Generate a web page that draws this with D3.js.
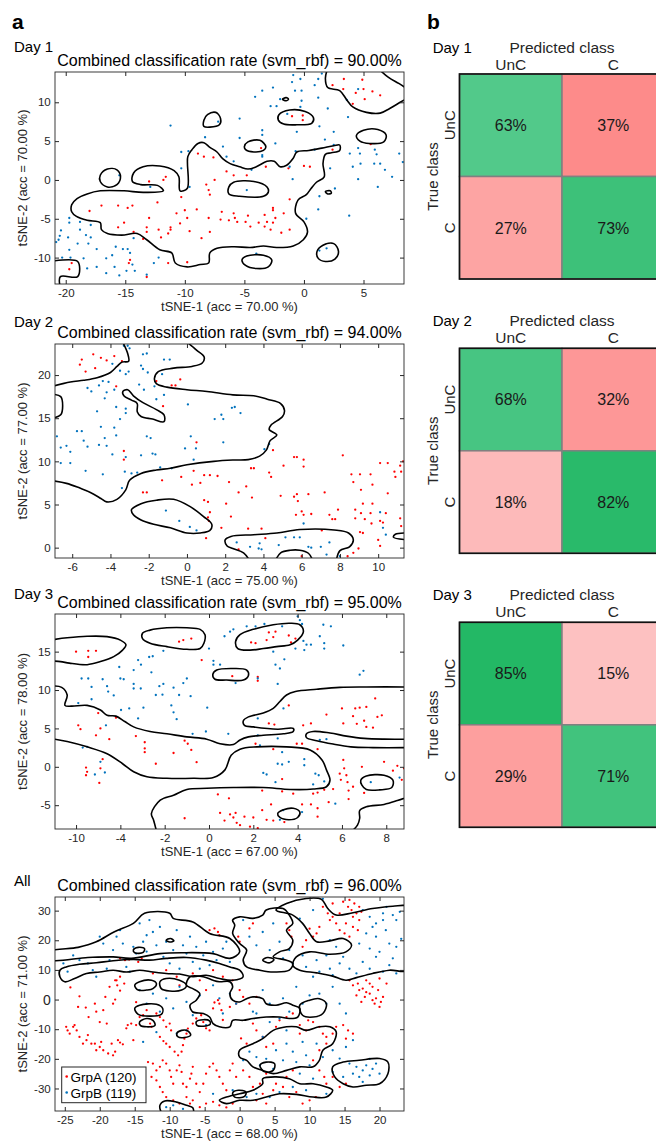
<!DOCTYPE html>
<html>
<head>
<meta charset="utf-8">
<script src="https://cdn.jsdelivr.net/npm/d3@7"></script>
<style>
body{margin:0;background:#fff}
text{font-family:"Liberation Sans",Arial,Helvetica,sans-serif;fill:#262626}
</style>
</head>
<body>
<div id="chart"></div>
<script>
// ---- data ----
const titles = ["Combined classification rate (svm_rbf) = 90.00%","Combined classification rate (svm_rbf) = 94.00%",
  "Combined classification rate (svm_rbf) = 95.00%","Combined classification rate (svm_rbf) = 96.00%"]
const dayNames = ["Day 1","Day 2","Day 3","All"]
const xLabels = ["tSNE-1 (acc = 70.00 %)","tSNE-1 (acc = 75.00 %)","tSNE-1 (acc = 67.00 %)","tSNE-1 (acc = 68.00 %)"]
const yLabels = ["tSNE-2 (acc = 70.00 %)","tSNE-2 (acc = 77.00 %)","tSNE-2 (acc = 78.00 %)","tSNE-2 (acc = 71.00 %)"]

const day1XDomain = [-20.9, 8.4], day1YDomain = [-13.4, 13.9]
const day2XDomain = [-6.9, 11.35], day2YDomain = [-1.2, 23.6]
const day3XDomain = [-6.95, 8.8], day3YDomain = [-8.1, 19.9]
const allXDomain = [-26.4, 23.5], allYDomain = [-37.6, 34.6]

const day1XTicks = [-20,-15,-10,-5,0,5], day1YTicks = [-10,-5,0,5,10]
const day2XTicks = [-6,-4,-2,0,2,4,6,8,10], day2YTicks = [0,5,10,15,20]
const day3XTicks = [-6,-4,-2,0,2,4,6,8], day3YTicks = [-5,0,5,10,15]
const day3XTickLabels = ["-10","-4","-2","0","2","4","6","8"]
const allXTicks = [-25,-20,-15,-10,-5,0,5,10,15,20], allYTicks = [-30,-20,-10,0,10,20,30]

const legendLabels = ["GrpA (120)","GrpB (119)"]

const day1Red = [[3.35,13.0],[4.9,12.9],[2.4,12.2],[3.3,11.7],[4.35,11.2],[5.0,11.7],[5.75,11.4],[6.4,10.9],[5.1,10.4],[4.1,9.8],[-1.0,8.2],[-0.1,8.3],[-0.1,7.7],[5.6,4.6],[-3.6,4.1],[2.4,3.9],[-8.9,3.4],[-8.4,3.0],[-7.6,2.9],[-6.5,1.1],[-5.9,0.6],[-4.8,0.6],[-3.2,1.7],[-1.3,1.5],[0.5,1.7],[-13.0,-0.2],[-11.8,0],[-11.6,0.4],[-8.2,-0.6],[-8.0,-1.3],[-7.5,0],[-10.3,-2.2],[-12.3,-2.9],[-7.9,-1.9],[-1.2,-2.5],[-17.0,-3.3],[-15.6,-3.3],[-14.8,-3.6],[-14.4,-3.3],[-18.0,-4.0],[-10.0,-3.9],[-10.7,-4.3],[-9.0,-3.8],[-6.9,-4.1],[-5.9,-4.3],[-4.7,-4.6],[-3.3,-4.5],[-2.6,-3.6],[-2.6,-3.9],[-1.7,-4.3],[-13.0,-4.9],[-15.1,-5.5],[-15.6,-6.1],[-14.3,-6.7],[-13.2,-6.1],[-13.2,-6.7],[-12.2,-6.4],[-12.0,-7.4],[-13.5,-7.6],[-11.4,-6.9],[-11.2,-6.1],[-11.2,-6.4],[-10.4,-5.6],[-9.8,-4.9],[-9.6,-6.6],[-8.0,-4.9],[-7.9,-6.7],[-8.6,-7.5],[-7.0,-5.1],[-6.3,-5.2],[-5.8,-4.9],[-5.6,-5.4],[-4.9,-5.4],[-4.5,-6.0],[-3.8,-5.5],[-3.3,-6.0],[-2.6,-5.5],[-2.4,-4.9],[-2.8,-6.4],[-1.9,-6.8],[-1.2,-6.4],[-3.1,-5.4],[-11.4,-10.7],[-9.8,-10.6],[-14.6,-10.3],[-14.7,-10.7],[-13.2,-12.5],[-19.7,-11.5],[-19.5,-10.7],[0,1.8]]
const day1Blue = [[-0.9,13.5],[-0.3,13.0],[-1.0,12.6],[1.5,13.7],[1.2,13.0],[-0.75,11.5],[-0.2,11.5],[0.9,12.2],[-2.6,11.9],[-3.5,11.5],[-4.1,10.7],[-2.0,10.4],[-0.2,10.2],[1.2,10.6],[2.0,9.2],[-2.8,9.5],[-2.3,9.5],[-0.3,9.4],[-5.4,7.9],[-7.2,7.5],[-11.2,7.0],[-1.4,8.5],[1.3,6.9],[3.6,10.3],[4.55,11.7],[3.7,8.1],[-3.5,6.4],[-3.5,5.8],[-5.4,5.4],[-8.3,5.5],[-2.4,4.7],[-0.6,6.2],[1.76,5.2],[2.5,6.2],[0.9,3.9],[-0.7,3.7],[-3.5,3.2],[-3.5,3.0],[-6.8,4.3],[-6.5,3.0],[-5.9,2.4],[-4.4,1.3],[-10.3,3.6],[-9.7,3.7],[-10.3,1.5],[-15.5,0.6],[-12.9,-0.9],[-9.6,-0.9],[-1.2,1.7],[-0.95,0.1],[2.5,4.5],[3.85,3.4],[4.55,4.1],[4.7,3.4],[4.1,1.7],[4.75,2.1],[4.55,0.1],[5.95,3.9],[6.1,3.3],[6.4,2.1],[5.9,2.1],[6.8,1.3],[7.4,0.4],[8.0,3.4],[8.3,2.3],[6.2,-0.9],[2.6,-1.1],[2.2,1.5],[1.3,-2.1],[1.2,-3.8],[0.2,-5.0],[3.8,-4.6],[-4.8,-1.3],[1.3,-9.1],[-4.0,-9.5],[1.9,-8.8],[-20.4,-6.5],[-20.5,-7.2],[-19.7,-4.9],[-19.7,-5.5],[-19.8,-7.4],[-19.0,-8.2],[-18.8,-6.4],[-18.8,-5.4],[-18.3,-7.1],[-18.1,-8.2],[-17.9,-7.4],[-17.9,-5.8],[-17.4,-8.9],[-19.7,-9.0],[-20.3,-10.0],[-19.6,-10.0],[-18.5,-10.1],[-18.2,-11.4],[-17.4,-11.2],[-16.6,-12.0],[-15.9,-11.2],[-16.6,-10.1],[-16.1,-9.7],[-15.8,-8.6],[-15.2,-8.9],[-14.8,-8.9],[-14.6,-9.4],[-14.4,-10.9],[-14.2,-11.7],[-14.9,-11.7],[-15.5,-12.3],[-13.2,-12.2],[-12.2,-10.0],[-12.6,-10.7],[-20.6,-7.7],[-14.3,-7.5],[-20.8,-8.0]]
const day1Loops = [
  [[-19.5,-3.2],[-19.05,-2.4],[-18.2,-1.8],[-17.1,-1.4],[-15.1,-1.4],[-13.5,-1.6],[-11.8,-1.4],[-12.3,-0.7],[-13.7,-0.6],[-14.4,-0.2],[-14.3,0.9],[-13.5,1.7],[-12.1,1.8],[-10.9,1.2],[-10.5,0.4],[-10.4,-1.4],[-9.8,-1.1],[-9.75,3.0],[-9.4,3.9],[-8.9,4.7],[-8.4,4.8],[-7.9,4.2],[-7.3,3.6],[-6.8,2.7],[-6.2,2.1],[-5.4,1.7],[-4.7,1.4],[-4.0,1.7],[-3.1,2.4],[-2.5,2.4],[-2.0,1.7],[-1.45,1.9],[-0.9,2.8],[-0.6,3.6],[0.4,3.8],[1.5,4.1],[2.5,4.4],[3.0,4.5],[3.0,3.8],[2.3,3.5],[1.8,3.3],[1.6,2.1],[1.7,0.4],[1.05,-0.3],[0.6,-1.1],[0.2,-1.9],[-0.5,-2.6],[-0.7,-4.3],[0,-5.4],[0.3,-6.7],[-0.05,-7.7],[-0.9,-8.5],[-2.3,-8.7],[-3.4,-8.5],[-4.5,-8.7],[-5.9,-8.6],[-7.3,-8.8],[-7.9,-9.4],[-8.0,-10.7],[-8.7,-10.9],[-9.8,-11.2],[-10.8,-10.7],[-11.1,-9.4],[-12.1,-9.0],[-13.2,-7.7],[-14.0,-6.9],[-15.3,-7.1],[-16.5,-6.9],[-17.0,-6.4],[-17.1,-5.5],[-18.2,-5.2],[-19.1,-4.7],[-19.5,-4.1]],
  [[-6.3,-0.9],[-5.9,-0.3],[-4.2,-0.2],[-3.1,-0.9],[-3.0,-1.6],[-3.4,-2.1],[-5.4,-2.1],[-6.3,-1.8]],
  [[-17.1,0.6],[-16.5,1.4],[-15.7,1.3],[-15.4,0.4],[-15.7,-0.6],[-16.5,-0.9],[-17.1,-0.2]],
  [[-8.4,7.7],[-8.1,8.4],[-7.4,8.7],[-7.0,7.9],[-7.1,7.1],[-7.9,6.8],[-8.4,6.9]],
  [[-5.0,4.3],[-4.7,4.9],[-3.7,5.1],[-3.2,4.3],[-3.4,3.8],[-4.2,3.6],[-4.9,3.9]],
  [[-2.1,8.4],[-1.2,9.0],[0.1,8.8],[0.8,8.0],[0.65,7.3],[-0.6,7.1],[-1.7,7.2],[-2.15,7.7]],
  [[-1.8,10.4],[-1.5,10.6],[-1.3,10.4],[-1.5,10.2]],
  [[4.4,5.7],[5.0,6.4],[6.2,6.5],[6.9,5.8],[6.7,4.9],[5.5,4.7],[4.7,5.0]],
  [[1.8,-1.5],[2.2,-1.4],[2.3,-1.7],[2.0,-1.8]],
  [[-5.2,-10.3],[-4.8,-9.8],[-3.4,-9.7],[-2.7,-10.3],[-3.0,-11.2],[-4.0,-11.4],[-4.9,-11.0]],
  [[1.1,-9.2],[1.6,-8.4],[2.5,-8.2],[2.9,-9.2],[2.6,-10.2],[1.8,-10.5],[1.2,-10.1]]
]
const day1Lines = [
  [[-21.3,-10.5],[-19.0,-10.5],[-19.0,-12.45],[-20.45,-12.45],[-20.45,-13.9]],
  [[2.0,14.4],[1.8,13.1],[2.0,11.9],[3.0,11.5],[3.6,10.3],[4.1,9.4],[5.25,8.7],[6.4,8.6],[7.2,9.2],[8.2,10.1],[8.9,10.7]],
  [[6.2,14.4],[7.1,13.2],[8.0,12.4],[8.9,11.5]]
]

const day2Red = [[-5.5,21.8],[-5.6,21.2],[-4.9,22.4],[-4.5,22.0],[-4.2,21.7],[-3.8,22.2],[-5.3,20.4],[-4.8,20.8],[-3.4,21.6],[-3.7,18.7],[-1.6,19.3],[-0.8,18.8],[-0.6,18.8],[-0.35,19.5],[-1.25,16.4],[-3.3,11.2],[-3.3,10.2],[-1.3,7.8],[-2.3,6.4],[-2.1,6.4],[-0.3,8.2],[0.35,8.9],[0.26,7.3],[0.7,7.5],[0.5,12.2],[0.9,8.4],[1.2,8.4],[1.6,8.3],[0.9,5.5],[1.1,5.3],[1.2,4.1],[1.1,3.5],[1.15,3.1],[1.0,1.1],[1.8,2.3],[2.05,5.1],[2.2,7.6],[2.7,6.4],[2.3,3.6],[3.1,7.1],[3.2,2.2],[3.35,9.2],[3.4,5.8],[3.5,9.2],[3.9,2.2],[4.1,1.1],[4.3,8.7],[4.4,8.2],[4.5,11.3],[4.9,6.0],[5.05,9.5],[5.6,10.5],[5.75,10.5],[5.6,5.9],[5.75,6.2],[5.8,5.4],[6.0,4.2],[6.1,3.8],[6.1,10.2],[6.1,9.4],[6.35,6.2],[6.5,3.9],[5.7,3.8],[7.05,2.0],[7.2,6.4],[7.45,3.8],[7.6,3.3],[7.75,3.3],[7.9,4.4],[8.15,10.7],[8.6,8.5],[8.7,7.6],[8.8,4.4],[8.8,3.4],[8.97,-0.1],[8.7,-0.6],[8.4,-1.0],[9.05,8.5],[9.1,6.7],[9.2,5.1],[9.1,4.0],[9.3,3.3],[9.05,1.8],[9.2,1.7],[9.6,8.5],[9.7,7.3],[9.7,5.1],[9.6,4.0],[9.65,2.8],[10.0,0.9],[10.1,9.8],[10.1,3.1],[10.25,2.9],[10.4,4.0],[10.5,9.8],[10.5,6.3],[10.1,0.2],[10.85,8.8],[10.9,8.2],[11.15,9.5],[11.2,8.8],[11.3,10.0],[11.15,3.4],[11.2,2.5],[2.7,-0.2],[6.0,-1.0]]
const day2Blue = [[-3.3,23.4],[-3.1,23.4],[-3.0,23.1],[-2.3,22.4],[-2.1,22.5],[-2.4,21.1],[-2.3,20.7],[-2.05,20.3],[-1.2,21.8],[-0.9,21.8],[-1.3,20.1],[-3.2,20.1],[-3.5,20.5],[-3.05,20.4],[-3.9,21.3],[-4.1,19.2],[-4.4,19.3],[-4.6,18.8],[-3.8,18.3],[-4.2,18.0],[-5.2,18.5],[-5.0,18.1],[-4.3,17.3],[-3.7,16.3],[-3.2,16.1],[-3.2,15.6],[-4.7,15.8],[-2.5,18.9],[-2.25,18.3],[-1.7,18.7],[-1.6,17.2],[-1.2,17.7],[0.05,16.6],[1.8,15.4],[1.45,14.9],[1.9,14.9],[2.35,16.2],[2.5,16.3],[2.8,15.6],[0.2,12.9],[0.47,11.5],[0.35,10.2],[1.9,12.2],[4.3,12.0],[4.05,11.4],[-6.8,12.9],[-6.6,11.6],[-6.6,9.8],[-6.3,11.8],[-6.1,11.1],[-6.1,9.8],[-5.75,13.5],[-5.5,13.5],[-5.4,12.4],[-5.2,11.7],[-5.3,8.9],[-4.6,11.9],[-4.5,14.0],[-4.3,12.7],[-4.2,11.8],[-3.8,13.9],[-3.7,13.0],[-3.9,10.8],[-4.4,8.5],[-3.5,14.9],[-3.4,6.9],[-3.25,8.8],[-3.2,10.5],[-2.9,8.6],[-2.6,8.7],[-2.4,10.7],[-2.1,12.9],[-1.9,12.7],[-1.8,10.9],[-1.65,10.8],[-1.4,9.3],[-0.8,9.2],[-0.1,11.5],[-1.1,4.3],[-0.4,3.1],[0.15,2.4],[0.5,2.0],[2.6,0.6],[3.3,0.1],[3.75,-0.1],[3.9,-0.2],[3.8,0.5],[4.8,0.3],[5.15,1.2],[5.6,1.2],[5.9,1.2],[6.1,2.8],[6.35,0.1],[6.5,0.0],[7.0,0.1],[7.45,0.6],[7.3,-0.8],[8.0,-1.0],[10.1,4.1],[10.25,2.3],[10.4,1.5]]
const day2Loops = [
  [[-3.35,18.1],[-3.1,18.3],[-2.8,17.6],[-2.3,16.8],[-1.6,16.0],[-1.2,15.4],[-1.2,14.6],[-1.8,14.9],[-2.4,15.2],[-2.6,15.75],[-2.6,16.7],[-2.9,17.1],[-3.3,17.6]],
  [[-2.9,4.4],[-2.4,5.1],[-1.6,5.5],[-0.7,5.6],[0.17,4.75],[0.87,3.6],[1.3,2.7],[1.2,2.0],[0.7,1.7],[0,1.7],[-0.87,2.3],[-1.74,2.7],[-2.4,3.2],[-2.8,3.8]]
]
const day2Lines = [
  [[-7.2,18.6],[-6.1,19.2],[-5.4,19.4],[-4.7,19.7],[-4.0,20.3],[-3.66,21.0],[-3.4,21.5],[-3.05,21.6],[-3.1,22.5],[-3.4,24.0]],
  [[-0.1,24.0],[0.5,22.9],[0.9,22.1],[0.8,21.4],[0.26,21.0],[-0.7,20.8],[-1.5,20.4],[-1.7,19.6],[-1.6,19.0],[-1.05,18.6],[0,18.3],[1.05,18.1],[2.4,17.7],[3.5,17.6],[4.2,17.2],[4.9,16.7],[5.1,15.9],[5.0,15.2],[4.4,14.2],[4.3,13.7],[4.7,13.05],[4.35,12.4],[4.15,11.3],[3.8,10.6],[3.2,10.2],[2.4,10.15],[1.4,10.0],[0,9.6],[-0.87,9.2],[-1.6,9.0],[-2.4,8.6],[-3.0,7.8],[-3.2,6.7],[-3.66,5.6],[-4.2,5.3],[-4.5,5.7],[-5.05,6.4],[-5.6,6.9],[-6.3,7.45],[-7.2,7.8]],
  [[-7.2,17.8],[-6.6,17.5],[-6.5,16.4],[-6.6,15.4],[-7.2,14.9]],
  [[3.3,-1.6],[2.96,-0.6],[2.4,-0.1],[2.1,0.2],[2.0,0.9],[2.3,1.3],[3.5,1.5],[4.7,1.7],[5.9,2.1],[7.7,2.05],[8.45,1.7],[8.7,0.9],[8.5,0.1],[8.0,-0.35],[7.8,-1.6]],
  [[4.6,-1.6],[4.9,-0.6],[5.4,-0.3],[5.9,-0.3],[6.35,-0.65],[6.6,-1.6]],
  [[11.7,1.7],[10.9,1.55],[10.8,1.2],[11.7,0.9]]
]

const day3Red = [[-6.0,15.0],[-5.45,15.1],[-5.1,15.1],[-5.45,14.3],[-1.35,16.3],[-1.16,16.5],[-0.8,16.7],[-0.33,13.9],[1.05,11.8],[1.9,16.2],[2.1,16.1],[2.2,11.7],[2.2,11.2],[2.7,17.5],[2.6,16.5],[3.0,17.6],[2.9,16.9],[3.6,17.1],[3.7,16.2],[3.9,16.7],[3.6,8.0],[-5.9,5.4],[-5.8,4.9],[-5.0,7.0],[-5.1,4.1],[-4.9,5.0],[-4.2,6.4],[-4.5,3.6],[-3.3,4.0],[-2.9,3.2],[-2.9,2.4],[-2.9,1.9],[-1.6,1.8],[-1.1,3.4],[-0.96,3.0],[-0.8,2.2],[-0.56,0.6],[-2.4,0.4],[-4.8,1.0],[-5.55,-0.1],[-5.5,-0.65],[-5.55,-1.1],[-4.95,-2.1],[-4.9,-0.2],[2.7,5.65],[2.95,5.5],[3.96,3.0],[4.2,3.0],[4.25,5.4],[4.6,5.65],[4.9,2.3],[5.3,6.8],[6.0,7.6],[6.06,5.65],[6.6,7.6],[6.5,6.6],[6.8,7.7],[7.1,7.8],[6.67,5.6],[7.0,6.0],[7.1,5.2],[7.5,8.9],[7.4,5.1],[7.6,6.5],[7.8,6.7],[2.1,3.0],[2.9,2.3],[3.3,-1.6],[3.3,-3.2],[3.8,-3.5],[2.4,-3.1],[2.4,-5.65],[2.0,-6.6],[1.6,-6.5],[1.85,-7.8],[2.2,-8.0],[2.6,-6.9],[2.9,-7.0],[2.8,-4.9],[0.4,-3.6],[0.9,-4.1],[0.5,-6.0],[0.7,-7.0],[0.95,-6.2],[1.1,-6.6],[1.2,-6.0],[1.25,-7.3],[1.4,-7.6],[-1.1,-6.7],[3.4,-7.2],[4.7,-3.5],[4.9,-3.35],[4.9,-5.4],[4.9,-6.5],[4.2,-4.9],[4.6,-4.9],[5.2,-3.0],[5.4,-4.6],[5.6,-2.9],[5.9,-0.9],[5.95,-1.7],[6.06,0.9],[6.1,-0.2],[6.2,-1.1],[6.25,-2.0],[6.3,-3.1],[6.3,-4.2],[6.5,-2.6],[6.9,0],[7.0,-3.4],[7.9,0.65],[8.3,-0.5],[8.5,0.13],[8.7,-1.7],[8.8,-0.2]]
const day3Blue = [[-5.9,8.3],[-5.75,11.5],[-5.45,11.5],[-5.3,10.4],[-5.3,8.8],[-4.8,11.4],[-4.6,10.5],[-4.55,9.8],[-4.3,9.3],[-4.05,13.0],[-4.0,11.5],[-3.85,11.4],[-3.97,7.4],[-3.6,7.6],[-3.4,12.6],[-3.4,10.8],[-3.4,10.2],[-3.2,13.9],[-3.07,13.3],[-3.08,10.2],[-2.96,7.7],[-3.2,6.3],[-2.7,14.3],[-2.54,14.4],[-2.6,12.3],[-2.4,9.35],[-2.1,9.4],[-2.24,10.5],[-2.06,10.8],[-2.06,15.1],[-1.6,10.3],[-1.7,8.0],[-1.6,7.1],[-1.46,6.2],[-1.35,9.35],[-1.16,10.9],[-1.0,11.5],[-0.83,9.2],[-0.74,4.3],[-0.14,4.6],[-0.08,7.7],[0.2,13.8],[0.2,13.3],[0.0,15.4],[0.5,13.3],[0.7,17.0],[0.87,4.3],[1.1,17.9],[1.2,10.9],[0.95,17.6],[1.7,18.3],[2.1,18.3],[2.2,11.5],[2.5,18.6],[2.9,15.0],[3.0,13.3],[3.2,12.8],[3.1,10.8],[3.4,14.0],[3.36,7.6],[3.3,18.3],[3.9,15.4],[4.0,19.6],[4.1,19.1],[4.2,18.6],[4.26,16.4],[4.4,15.9],[4.6,15.9],[4.3,15.2],[5.0,17.0],[5.2,16.1],[5.16,18.5],[5.5,18.3],[5.2,15.4],[6.06,15.8],[6.8,12.0],[6.97,12.5],[2.2,6.3],[2.2,4.1],[2.3,2.8],[3.1,3.7],[3.3,1.9],[3.1,0.4],[3.3,0.3],[3.6,0.65],[4.3,1.0],[4.3,0.2],[5.0,3.5],[5.3,3.6],[2.45,-0.8],[2.6,-1.0],[3.0,-2.0],[4.8,-0.9],[4.95,-1.1],[4.7,-2.3],[5.2,-1.9],[5.7,-4.8],[7.3,-2.0],[8.6,-1.4],[3.35,-5.65],[3.2,-6.9],[4.2,-5.9],[-5.15,-1.0],[-4.9,0.65],[-4.7,-0.74],[-5.7,2.5],[-5.5,2.6],[-4.65,5.4]]
const day3Loops = [
  [[-3.0,17.4],[-2.66,17.8],[-1.9,18.1],[-1.0,18.1],[-0.4,17.9],[-0.18,17.2],[-0.23,16.1],[-0.4,15.4],[-1.0,15.3],[-1.9,15.65],[-2.66,16.1],[-3.0,16.7]],
  [[1.2,16.3],[1.4,17.2],[2.0,17.9],[2.9,18.5],[3.66,18.7],[4.1,18.5],[4.26,17.6],[4.0,16.5],[3.66,15.9],[3.05,15.65],[2.45,15.4],[1.85,15.2],[1.3,15.4]],
  [[0.17,12.0],[0.35,12.6],[1.1,12.8],[1.7,12.6],[1.78,11.9],[1.55,11.3],[0.8,11.3],[0.27,11.4]],
  [[6.85,-1.74],[7.1,-1.2],[7.9,-1.1],[8.3,-1.74],[8.25,-2.7],[7.7,-3.0],[7.1,-2.96],[6.9,-2.4]],
  [[3.1,-6.1],[3.36,-5.6],[3.8,-5.4],[4.1,-5.9],[4.0,-6.6],[3.6,-6.9],[3.2,-6.6]]
]
const day3Lines = [
  [[-7.2,16.5],[-6.4,16.8],[-5.5,17.0],[-4.6,16.95],[-4.0,16.5],[-3.75,15.9],[-3.9,15.2],[-4.3,14.35],[-4.9,13.7],[-5.5,13.3],[-6.3,13.5],[-6.7,13.7],[-7.2,13.8]],
  [[-7.2,10.5],[-6.65,10.35],[-6.4,9.35],[-6.5,8.0],[-6.2,7.9],[-5.5,8.0],[-4.9,7.4],[-4.6,6.7],[-4.2,6.6],[-3.8,5.9],[-3.4,5.2],[-2.66,4.6],[-1.9,4.3],[-1.0,3.9],[-0.1,3.6],[0.5,3.0],[1.1,2.9],[1.4,3.5],[1.78,3.9],[2.45,4.1],[3.36,4.3],[3.8,4.6],[3.8,5.0],[3.1,4.9],[2.0,5.2],[1.6,5.4],[1.55,6.0],[1.78,6.5],[2.45,7.0],[2.9,7.6],[3.2,8.5],[3.5,9.35],[3.9,9.8],[4.86,10.1],[5.9,10.35],[7.1,10.4],[9.1,10.4]],
  [[-7.2,3.7],[-6.4,3.3],[-5.5,2.6],[-4.6,1.7],[-3.9,0.4],[-3.4,-0.65],[-2.8,-1.3],[-1.9,-1.5],[-0.7,-1.5],[0.2,-1.4],[0.72,-0.4],[1.0,1.5],[1.4,2.3],[2.15,2.6],[3.5,2.6],[4.56,2.2],[5.1,0.9],[5.3,-0.4],[5.46,-1.74],[5.3,-2.6],[4.7,-2.9],[3.66,-2.95],[2.45,-2.7],[1.1,-2.7],[-0.1,-2.8],[-1.0,-2.95],[-1.6,-3.7],[-2.2,-4.35],[-2.6,-6.1],[-2.5,-6.95],[-2.36,-8.5]],
  [[9.1,3.6],[7.9,3.6],[7.0,3.7],[6.2,4.0],[5.46,4.4],[4.7,4.6],[4.4,4.3],[4.4,3.8],[4.86,3.4],[5.6,2.96],[6.4,2.6],[7.4,2.5],[9.1,2.5]],
  [[9.1,-3.8],[8.5,-4.4],[7.9,-4.9],[7.1,-5.2],[6.8,-5.7],[6.8,-6.7],[6.7,-7.6],[6.4,-8.5]]
]

const allRed = [[-24.2,4.1],[-22.9,1.1],[-23.1,-2.5],[-22.0,-2.7],[-21.6,-5.9],[-20.7,-1.4],[-20.5,-4.1],[-19.5,-3.6],[-19.2,0.9],[-18.6,4.3],[-17.8,6.5],[-17.5,4.8],[-17.1,3.0],[-16.5,5.4],[-17.8,0],[-18.1,-1.4],[-20.0,-7.6],[-19.0,-8.1],[-24.8,-9.2],[-24.6,-10.4],[-24.3,-11.5],[-23.8,-9.2],[-23.6,-8.6],[-23.3,-10.4],[-22.9,-12.6],[-22.4,-14.9],[-21.9,-13.7],[-21.7,-12.0],[-21.2,-14.9],[-20.7,-14.9],[-20.5,-17.1],[-20.0,-16.0],[-19.8,-14.3],[-19.5,-17.1],[-18.8,-18.2],[-18.3,-14.9],[-17.8,-17.6],[-18.1,-18.8],[-17.4,-13.7],[-17.1,-14.5],[-16.7,-15.1],[-16.2,-9.7],[-16.0,-8.6],[-15.5,-8.1],[-14.8,-8.6],[-15.2,-13.7],[-14.8,-0.9],[-14.3,-5.9],[-13.8,-5.3],[-13.3,-3.6],[-12.8,-8.1],[-12.6,-9.2],[-11.9,-4.7],[-11.4,-5.9],[-10.9,-7.0],[-10.5,-9.2],[-10.0,-8.1],[-9.8,-10.4],[-11.4,-12.6],[-10.9,-14.0],[-10.5,-14.9],[-10.0,-16.0],[-9.3,-17.6],[-8.8,-18.8],[-8.3,-17.6],[-8.1,-15.4],[-7.9,-13.2],[-7.6,-11.5],[-7.4,-9.8],[-6.7,-8.1],[-6.2,-6.4],[-5.5,-5.3],[-5.2,-7.6],[-4.8,-9.7],[-4.3,-10.4],[-3.8,-3.0],[-3.6,-1.0],[-3.1,-0.2],[-2.9,-1.4],[-2.6,-3.6],[-2.4,-6.9],
  [-13.1,-21.1],[-12.4,-21.6],[-11.9,-23.9],[-11.4,-22.7],[-11.0,-20.5],[-10.5,-21.6],[-10.0,-23.9],[-9.8,-26.1],[-9.5,-28.4],[-9.0,-23.9],[-8.6,-22.2],[-8.3,-24.4],[-8.1,-28.4],[-7.6,-29.5],[-7.1,-26.7],[-6.9,-25.0],[-6.7,-22.7],[-6.2,-28.4],[-5.7,-31.2],[-5.2,-28.4],[-4.8,-25.0],[-4.3,-22.7],[-3.8,-21.6],[-3.3,-23.9],[-2.9,-26.1],[-2.4,-28.4],[-1.9,-30.6],[-1.4,-23.9],[-1.0,-21.6],[-0.5,-26.1],[-7.6,-32.9],[-7.1,-35.1],[-6.7,-34.0],[-5.7,-36.3],[-4.8,-35.1],[-3.8,-34.5],[-2.9,-35.7],[-1.9,-36.4],[-1.0,-35.1],[-8.6,-35.1],[-9.5,-34.0],[-10.5,-32.9],[-11.0,-31.2],[-11.4,-29.5],[-11.9,-27.3],[-12.6,-26.1],
  [0.2,-13.1],[1.0,-14.9],[1.9,-8.1],[2.4,-10.4],[3.3,-12.6],[3.8,-16.0],[4.8,-14.9],[5.2,-9.2],[5.7,-7.0],[6.7,-5.9],[7.6,-4.7],[8.6,-8.6],[8.6,-11.5],[9.5,-10.4],[9.8,-7.0],[10.5,-7.6],[11.4,-9.2],[11.9,-11.5],[12.4,-12.6],[13.3,-11.5],[13.8,-9.2],[14.8,-8.6],[15.5,-10.4],[16.2,-11.5],[15.2,-13.2],[12.4,-14.9],[11.4,-17.1],[10.5,-20.5],[11.4,-23.9],[12.1,-26.1],[12.4,-28.4],[13.3,-26.1],[14.3,-29.5],[15.2,-28.4],[0.5,-23.9],[1.4,-26.1],[1.9,-29.5],[2.9,-28.4],[3.8,-25.0],[4.8,-30.6],[5.2,-28.4],[6.2,-29.5],[7.1,-32.9],[8.1,-31.2],[9.0,-35.1],[10.0,-34.0],[10.9,-32.9],[7.6,-23.9],[6.7,-26.1],[3.3,-31.8],[3.8,-35.1],[2.4,-34.0],
  [13.3,32.4],[14.8,33.0],[15.5,31.3],[15.7,33.6],[16.0,30.2],[16.2,27.9],[16.4,32.4],[16.7,29.1],[17.1,26.8],[13.3,27.9],[12.9,26.8],[13.8,25.7],[14.3,23.4],[15.0,22.3],[15.2,25.7],[11.4,24.5],[11.0,22.3],[10.5,21.2],[9.5,20.0],[9.0,17.8],[10.0,23.9],[15.7,21.2],[16.2,24.5],[16.9,23.4],[12.6,29.1],[11.9,31.3],[14.3,29.1],[17.1,31.3],[17.4,29.6],
  [15.7,6.5],[16.2,4.8],[16.9,5.4],[17.1,3.2],[17.6,3.7],[17.9,0.9],[18.1,2.5],[18.6,2.0],[19.0,-0.2],[19.3,-1.4],[19.5,0.4],[20.0,-2.5],[20.2,-0.8],[20.5,0.9],[19.8,3.2],[19.0,4.3],[18.6,5.4],[18.1,6.5],[20.0,7.1],[21.0,5.4],[16.7,1.4],[17.4,-0.8],
  [-4.3,23.4],[-3.6,24.0],[-3.1,22.8],[-2.9,21.7],[6.7,25.7],[7.1,23.4],[7.4,21.2],[1.9,25.7],[1.4,24.0],[-0.2,21.2],[0,19.5],
  [-17.1,13.9],[-16.4,13.3],[-15.8,13.5],[-14.5,12.7],[-14.0,13.9],[-17.6,6.5],[-17.1,7.7],
  [-12.4,8.8],[-10.5,9.9],[-9.0,7.7],[-8.6,4.8],[-6.7,8.8],[-5.7,6.5],[-4.8,3.2],[-3.8,9.9],[-2.4,7.7],[-1.0,6.5],[0,3.2],[0.5,0.9],[-0.5,-1.4],[-1.4,-2.5],[1.4,-1.4],[2.4,0.9]]
const allBlue = [[-25.2,12.2],[-24.6,9.4],[-23.8,14.9],[-22.9,13.3],[-21.7,12.2],[-21.0,9.9],[-20.5,7.7],[-20.0,21.2],[-19.5,18.9],[-19.0,10.4],[-18.6,13.3],[-18.1,16.7],[-17.6,21.2],[-17.1,23.4],[-16.7,18.9],[-16.2,11.0],[-15.7,9.4],[-15.2,17.8],[-14.8,15.5],[-14.3,25.7],[-13.8,19.5],[-13.3,16.2],[-13.3,21.7],[-12.9,26.8],[-12.4,22.8],[-11.9,18.3],[-11.4,24.5],[-10.9,14.4],[-10.5,19.5],[-10.0,12.2],[-9.5,16.7],[-9.0,23.4],[-8.6,10.4],[-8.1,18.3],[-7.6,15.5],[-7.1,21.2],[-6.7,12.7],[-6.2,17.8],[-5.7,10.4],[-5.2,14.9],[-4.8,19.5],[-4.3,11.6],[-3.8,16.1],[-3.3,13.3],[-2.4,17.2],[-1.9,19.5],[-1.4,12.7],
  [-14.3,3.2],[-13.3,-1.4],[-12.4,2.0],[-11.4,-4.1],[-10.5,0.4],[-9.5,-3.0],[-8.6,4.3],[-7.6,-0.8],[-6.7,-5.3],[-5.7,1.4],[-4.8,-8.6],[-3.8,4.8],[-2.9,0.4],[-2.4,-4.7],[-1.4,2.0],[-0.5,-1.4],[-11.9,-11.0],[-13.8,-14.3],[-9.0,-11.5],[-7.6,-10.4],
  [0.5,26.8],[1.4,21.2],[2.4,18.3],[3.3,22.8],[4.3,16.7],[4.8,25.7],[5.7,19.5],[6.2,13.9],[7.1,16.7],[7.6,12.2],[8.6,27.3],[9.0,14.9],[9.5,11.0],[10.5,7.7],[11.0,13.3],[11.4,9.4],[12.4,14.9],[12.9,10.4],[13.3,8.2],[14.3,12.2],[14.8,14.4],[15.7,10.4],[16.7,8.8],[17.6,12.7],[18.6,10.4],[19.5,14.4],[20.5,9.4],[21.4,11.6],[22.4,8.8],[10.5,30.2],[11.9,34.0],[12.9,20.0],[13.8,17.8],[10.0,1.4],[8.1,4.3],[6.2,0.4],[4.3,-1.4],[3.3,3.2],[1.9,-4.1],[11.4,2.0],[12.4,-1.4],[13.3,4.3],[9.0,-1.4],[7.1,-4.1],[5.7,-6.4],
  [17.6,30.2],[18.6,27.9],[19.5,25.7],[20.5,29.1],[21.0,31.3],[21.9,28.5],[22.9,29.6],[22.4,26.8],[20.9,23.4],[19.5,21.2],[18.1,22.3],[17.1,18.9],[18.6,17.2],[20.0,16.1],[21.4,18.9],[22.4,17.8],[23.1,20.5],[21.9,13.9],[19.0,24.5],[20.5,26.8],
  [0.5,-20.5],[1.4,-17.6],[2.4,-19.4],[2.9,-22.2],[3.8,-20.0],[4.8,-23.4],[5.2,-17.1],[6.2,-20.5],[6.7,-14.9],[7.6,-17.6],[8.1,-21.1],[8.6,-25.0],[9.0,-14.3],[9.5,-18.8],[10.0,-22.2],[10.5,-26.7],[11.0,-14.9],[11.9,-19.4],[13.3,-17.1],[14.3,-19.9],[15.2,-16.0],[15.7,-21.6],[16.2,-25.0],[16.7,-22.7],[17.1,-26.1],[17.6,-23.9],[18.1,-22.2],[18.6,-25.6],[19.0,-23.4],[19.5,-21.6],[20.0,-25.0],[18.6,-20.0],[17.6,-27.8],[14.8,-26.1],[13.3,-24.4],[5.7,-31.2],[4.3,-32.9],[2.4,-31.8],[1.0,-32.9],[-1.0,-30.6],[7.6,-29.5],[9.5,-30.6],[12.4,-31.8],[6.7,-10.4],[4.3,-7.6],[3.3,-12.6],[2.4,-4.7],[15.2,-4.7],[14.3,-1.4],[16.2,-13.7],
  [-10.5,-36.3],[-9.5,-35.7],[-8.1,-36.9],[-3.8,-31.8],[-15.2,-30.6],[-16.2,-28.4]]
const allLoops = [
  [[-27.2,16.1],[-23.1,17.6],[-20.5,19.5],[-17.9,22.9],[-15.2,25.7],[-13.6,29.1],[-10.0,29.1],[-9.5,27.4],[-6.7,26.2],[-4.3,22.3],[-1.4,20.6],[0,16.1],[-1.4,13.9],[-3.8,15.5],[-8.3,15.8],[-11.4,15.5],[-15.5,13.9],[-18.1,14.4],[-21.7,14.2],[-27.2,13.5]],
  [[-25.7,9.9],[-24.8,11.0],[-22.9,11.9],[-20.5,12.4],[-18.1,13.1],[-15.2,13.5],[-12.9,13.3],[-10.5,13.9],[-7.6,14.2],[-4.8,13.3],[-2.9,12.2],[-1.4,11.0],[0,9.9],[0.5,7.7],[-1.0,6.5],[-2.9,7.1],[-4.8,8.2],[-6.7,7.7],[-8.6,8.6],[-10.5,8.8],[-12.4,9.3],[-14.3,9.9],[-16.2,9.3],[-18.1,9.9],[-20.0,9.3],[-21.9,8.8],[-23.6,7.1],[-25.0,6.0],[-25.7,7.7]],
  [[-1.0,26.8],[0,27.9],[1.9,27.4],[3.3,28.5],[3.8,30.2],[6.2,30.7],[7.1,28.5],[7.6,25.7],[6.7,23.4],[7.6,20.0],[7.1,17.2],[5.7,16.1],[4.8,14.4],[6.7,13.3],[7.6,12.2],[7.1,9.9],[4.8,9.3],[2.9,9.9],[1.0,11.0],[0.5,13.3],[1.0,16.7],[0,18.9],[-1.0,22.3],[-0.7,25.1]],
  [[5.2,30.2],[6.7,32.4],[9.5,34.1],[11.7,33.8],[12.6,30.7],[13.8,28.5],[16.2,29.3],[19.0,30.7],[21.9,31.5],[24.3,31.1],[24.3,10.1],[21.4,9.9],[19.0,8.8],[16.7,7.4],[15.2,6.5],[13.3,7.9],[11.0,9.0],[8.6,9.9],[7.6,11.6],[8.1,14.4],[10.0,16.1],[12.9,15.3],[15.2,16.1],[16.0,18.4],[14.8,20.6],[12.9,19.8],[11.0,19.5],[10.0,22.3],[9.0,25.7],[7.6,28.5]],
  [[-7.1,7.7],[-5.2,7.7],[-3.8,6.5],[-2.9,6.0],[-1.4,6.0],[-1.0,4.3],[-1.4,2.0],[-1.0,-0.2],[0,-0.8],[1.0,0.3],[1.9,0.9],[3.3,0.3],[3.8,-1.4],[5.2,-1.9],[6.7,-1.1],[7.6,-1.9],[8.6,-3.0],[8.3,-5.9],[7.1,-6.4],[5.7,-5.9],[3.8,-5.9],[1.9,-6.4],[0.5,-7.0],[-1.0,-7.0],[-1.4,-9.2],[-2.9,-9.2],[-3.8,-8.1],[-4.3,-5.9],[-5.2,-4.7],[-6.7,-4.2],[-7.1,-1.9],[-6.2,-0.2],[-5.7,2.0],[-6.7,3.7],[-7.6,4.8]],
  [[-15.0,4.8],[-14.3,6.0],[-12.6,6.5],[-11.9,5.4],[-12.4,3.7],[-13.3,3.2],[-14.5,3.2]],
  [[-11.4,6.0],[-10.5,7.1],[-8.6,6.5],[-7.6,4.8],[-8.3,3.2],[-10.0,2.9],[-11.2,3.7]],
  [[-15.0,-3.0],[-14.3,-1.9],[-11.9,-1.6],[-11.0,-3.0],[-11.2,-5.0],[-12.9,-5.6],[-14.5,-5.0]],
  [[-14.3,-7.5],[-13.3,-6.4],[-12.4,-7.0],[-12.1,-8.7],[-13.3,-9.2],[-14.2,-8.7]],
  [[-9.0,-11.5],[-8.3,-10.4],[-7.4,-10.6],[-7.0,-12.0],[-7.9,-12.8],[-8.8,-12.6]],
  [[-6.2,-7.5],[-5.2,-6.8],[-4.3,-7.2],[-4.2,-8.3],[-5.2,-9.0],[-6.1,-8.7]],
  [[8.6,-1.9],[10.0,-0.2],[11.4,0.3],[12.4,-1.4],[11.9,-4.7],[10.5,-5.9],[9.0,-5.3]],
  [[0,-17.1],[1.9,-14.9],[3.3,-13.2],[4.8,-10.4],[6.7,-9.2],[8.1,-9.2],[9.5,-10.4],[11.4,-9.2],[12.9,-9.2],[13.8,-10.9],[13.3,-14.9],[11.9,-17.1],[11.4,-20.5],[10.5,-22.7],[8.6,-22.7],[6.7,-23.9],[4.8,-25.0],[3.3,-23.9],[1.9,-22.7],[1.0,-20.5],[0,-19.4]],
  [[13.3,-22.7],[14.8,-21.1],[17.1,-20.5],[20.0,-19.9],[21.2,-21.1],[21.2,-25.0],[20.0,-28.4],[18.1,-28.9],[16.2,-29.5],[14.8,-28.4],[13.6,-26.1]],
  [[-2.9,-34.0],[-1.9,-32.9],[0,-31.8],[1.9,-30.6],[3.3,-28.4],[3.3,-26.7],[5.2,-26.1],[7.1,-26.7],[8.6,-28.4],[10.5,-28.4],[12.4,-29.5],[13.3,-30.6],[12.4,-32.9],[10.5,-32.9],[8.1,-32.0],[5.7,-31.8],[3.8,-32.9],[1.9,-34.0],[0,-34.0],[-1.9,-35.1]],
  [[-11.4,-35.7],[-10.7,-34.2],[-9.0,-34.6],[-7.6,-35.7],[-6.7,-36.5],[-6.7,-38.4],[-11.0,-38.4]],
  [[-1.0,-31.5],[-0.2,-30.6],[0.9,-31.2],[0.7,-32.7],[-0.7,-32.9]],
  [[2.9,-22.2],[3.8,-21.1],[5.0,-21.6],[4.8,-23.9],[3.6,-24.4]],
  [[-15.2,16.7],[-14.5,17.6],[-13.6,17.2],[-13.8,15.9],[-15.0,15.8]],
  [[-10.5,20.0],[-9.9,20.6],[-9.4,19.8],[-10.0,19.4]],
  [[3.3,13.3],[4.0,14.2],[4.9,13.5],[4.3,12.4]]
]

// confusion matrices (rows: true class, cols: predicted class)
const classes = ["UnC","C"]
const cm1 = [[63,37],[27,73]]
const cm2 = [[68,32],[18,82]]
const cm3 = [[85,15],[29,71]]

// ---- layout ----
const W = 656, H = 1142
const svg = d3.select("#chart").append("svg").attr("width",W).attr("height",H)
const RED = "#ff0000", BLUE = "#0072bd", AXC = "#262626"

const panels = [
  {top:72, bottom:284, dayY:52, xd:day1XDomain, yd:day1YDomain, xt:day1XTicks, yt:day1YTicks, red:day1Red, blue:day1Blue, loops:day1Loops, lines:day1Lines},
  {top:344, bottom:558, dayY:327, xd:day2XDomain, yd:day2YDomain, xt:day2XTicks, yt:day2YTicks, red:day2Red, blue:day2Blue, loops:day2Loops, lines:day2Lines},
  {top:614, bottom:829, dayY:599, xd:day3XDomain, yd:day3YDomain, xt:day3XTicks, yt:day3YTicks, xtl:day3XTickLabels, red:day3Red, blue:day3Blue, loops:day3Loops, lines:day3Lines},
  {top:897, bottom:1111, dayY:886, xd:allXDomain, yd:allYDomain, xt:allXTicks, yt:allYTicks, red:allRed, blue:allBlue, loops:allLoops, lines:[]}
]

// panel letters
svg.append("text").attr("x",12).attr("y",29).style("font-size","21px").style("font-weight","bold").style("fill","#000").text("a")
svg.append("text").attr("x",427).attr("y",29).style("font-size","21px").style("font-weight","bold").style("fill","#000").text("b")

function styleAxis(sel, size) {
  sel.select(".domain").remove()
  sel.attr("font-family",null).attr("font-size",null)
  sel.selectAll("line").attr("stroke",AXC)
  sel.selectAll("text").style("font-size",size+"px").style("fill",AXC)
}

function drawScatter(p, i) {
  const left = 55, right = 404
  const x = d3.scaleLinear().domain(p.xd).range([left,right])
  const y = d3.scaleLinear().domain(p.yd).range([p.bottom,p.top])
  const g = svg.append("g")

  svg.append("clipPath").attr("id","clip"+i).append("rect")
    .attr("x",left).attr("y",p.top).attr("width",right-left).attr("height",p.bottom-p.top)
  const plot = g.append("g").attr("clip-path",`url(#clip${i})`)

  plot.selectAll("circle.r").data(p.red).join("circle").attr("class","r")
    .attr("cx",d=>x(d[0])).attr("cy",d=>y(d[1])).attr("r",1.15).attr("fill",RED)
  plot.selectAll("circle.b").data(p.blue).join("circle").attr("class","b")
    .attr("cx",d=>x(d[0])).attr("cy",d=>y(d[1])).attr("r",1.15).attr("fill",BLUE)

  const loop = d3.line().x(d=>x(d[0])).y(d=>y(d[1])).curve(d3.curveCatmullRomClosed.alpha(0.5))
  const open = d3.line().x(d=>x(d[0])).y(d=>y(d[1])).curve(d3.curveCatmullRom.alpha(0.5))
  plot.selectAll("path.loop").data(p.loops).join("path").attr("class","loop").attr("d",loop)
    .attr("fill","none").attr("stroke","#000").attr("stroke-width",1.6)
  plot.selectAll("path.open").data(p.lines).join("path").attr("class","open").attr("d",open)
    .attr("fill","none").attr("stroke","#000").attr("stroke-width",1.6)

  // axes, ticks pointing inwards like matlab
  const fmt = p.xtl ? (d,k)=>p.xtl[k] : d=>String(d)
  g.append("g").attr("transform",`translate(0,${p.bottom})`)
    .call(d3.axisBottom(x).tickValues(p.xt).tickFormat(fmt).tickSizeInner(-4).tickSizeOuter(0).tickPadding(5))
    .call(s=>styleAxis(s,11.5))
  g.append("g").attr("transform",`translate(0,${p.top})`)
    .call(d3.axisTop(x).tickValues(p.xt).tickFormat("").tickSizeInner(-4).tickSizeOuter(0))
    .call(s=>styleAxis(s,11.5))
  const ya = g.append("g").attr("transform",`translate(${left},0)`)
    .call(d3.axisLeft(y).tickValues(p.yt).tickFormat(d=>String(d)).tickSizeInner(-4).tickSizeOuter(0).tickPadding(4.3))
    .call(s=>styleAxis(s,11.5))
  if (i===3) ya.selectAll(".tick text").filter(d=>d===0).style("font-size","14px")
  g.append("g").attr("transform",`translate(${right},0)`)
    .call(d3.axisRight(y).tickValues(p.yt).tickFormat("").tickSizeInner(-4).tickSizeOuter(0))
    .call(s=>styleAxis(s,11.5))
  g.append("rect").attr("x",left).attr("y",p.top).attr("width",right-left).attr("height",p.bottom-p.top)
    .attr("fill","none").attr("stroke",AXC).attr("stroke-width",0.9)

  // texts
  g.append("text").attr("x",14).attr("y",p.dayY).style("font-size","15px").style("fill","#000").text(dayNames[i])
  g.append("text").attr("x",(left+right)/2).attr("y",p.top-6.5).attr("text-anchor","middle")
    .style("font-size","16px").style("fill","#000").text(titles[i])
  g.append("text").attr("x",(left+right)/2).attr("y",p.bottom+27).attr("text-anchor","middle")
    .style("font-size","13px").text(xLabels[i])
  g.append("text").attr("transform",`translate(27,${(p.top+p.bottom)/2}) rotate(-90)`).attr("text-anchor","middle")
    .style("font-size","13px").text(yLabels[i])

  if (i===3) {
    const lg = g.append("g")
    lg.append("rect").attr("x",61.7).attr("y",1067).attr("width",84.3).attr("height",35.7)
      .attr("fill","#fff").attr("stroke",AXC).attr("stroke-width",1)
    legendLabels.forEach((t,k)=>{
      lg.append("circle").attr("cx",66.7).attr("cy",1076.5+k*16).attr("r",1.3).attr("fill",k===0?RED:BLUE)
      lg.append("text").attr("x",70.5).attr("y",1081.5+k*16).style("font-size","13.5px").style("fill","#000").text(t)
    })
  }
}
panels.forEach(drawScatter)

// ---- confusion matrices ----
const greenScale = d3.scaleLinear().domain([63,85]).range(["#52c98a","#23b865"]).clamp(true)
const redScale = d3.scaleLinear().domain([15,37]).range(["#fdc1c1","#fd8b8a"]).clamp(true)
const matrices = [{top:74, labY:53, m:cm1, name:"Day 1"},{top:348.3, labY:326, m:cm2, name:"Day 2"},{top:622.3, labY:600, m:cm3, name:"Day 3"}]

matrices.forEach(mt=>{
  const size = 205
  const x = d3.scaleBand().domain(classes).range([459.5, 459.5+size])
  const y = d3.scaleBand().domain(classes).range([mt.top, mt.top+size])
  const g = svg.append("g")
  const cells = []
  mt.m.forEach((row,r)=>row.forEach((v,c)=>cells.push({r:classes[r], c:classes[c], v, diag:r===c})))

  g.selectAll("rect.cell").data(cells).join("rect").attr("class","cell")
    .attr("x",d=>x(d.c)).attr("y",d=>y(d.r)).attr("width",x.bandwidth()).attr("height",y.bandwidth())
    .attr("fill",d=>d.diag?greenScale(d.v):redScale(d.v)).attr("stroke","#808080").attr("stroke-width",1.5)
  g.append("rect").attr("x",459.5).attr("y",mt.top).attr("width",size).attr("height",size)
    .attr("fill","none").attr("stroke","#111").attr("stroke-width",1.6)
  g.selectAll("text.val").data(cells).join("text").attr("class","val")
    .attr("x",d=>x(d.c)+x.bandwidth()/2).attr("y",d=>y(d.r)+y.bandwidth()/2+5.8).attr("text-anchor","middle")
    .style("font-size","16px").style("fill","#1a1a1a").text(d=>d.v+"%")

  g.append("text").attr("x",432.7).attr("y",mt.labY).style("font-size","15px").style("fill","#000").text(mt.name)
  g.append("text").attr("x",459.5+x.bandwidth()).attr("y",mt.labY).attr("text-anchor","middle")
    .style("font-size","15.5px").text("Predicted class")
  g.selectAll("text.col").data(classes).join("text").attr("class","col")
    .attr("x",d=>x(d)+x.bandwidth()/2).attr("y",mt.labY+17).attr("text-anchor","middle")
    .style("font-size","15.5px").text(d=>d)
  g.append("text").attr("transform",`translate(438,${mt.top+size/2}) rotate(-90)`).attr("text-anchor","middle")
    .style("font-size","15px").text("True class")
  g.selectAll("text.row").data(classes).join("text").attr("class","row")
    .attr("transform",d=>`translate(455,${y(d)+y.bandwidth()/2}) rotate(-90)`).attr("text-anchor","middle")
    .style("font-size","15px").text(d=>d)
})
</script>
</body>
</html>
